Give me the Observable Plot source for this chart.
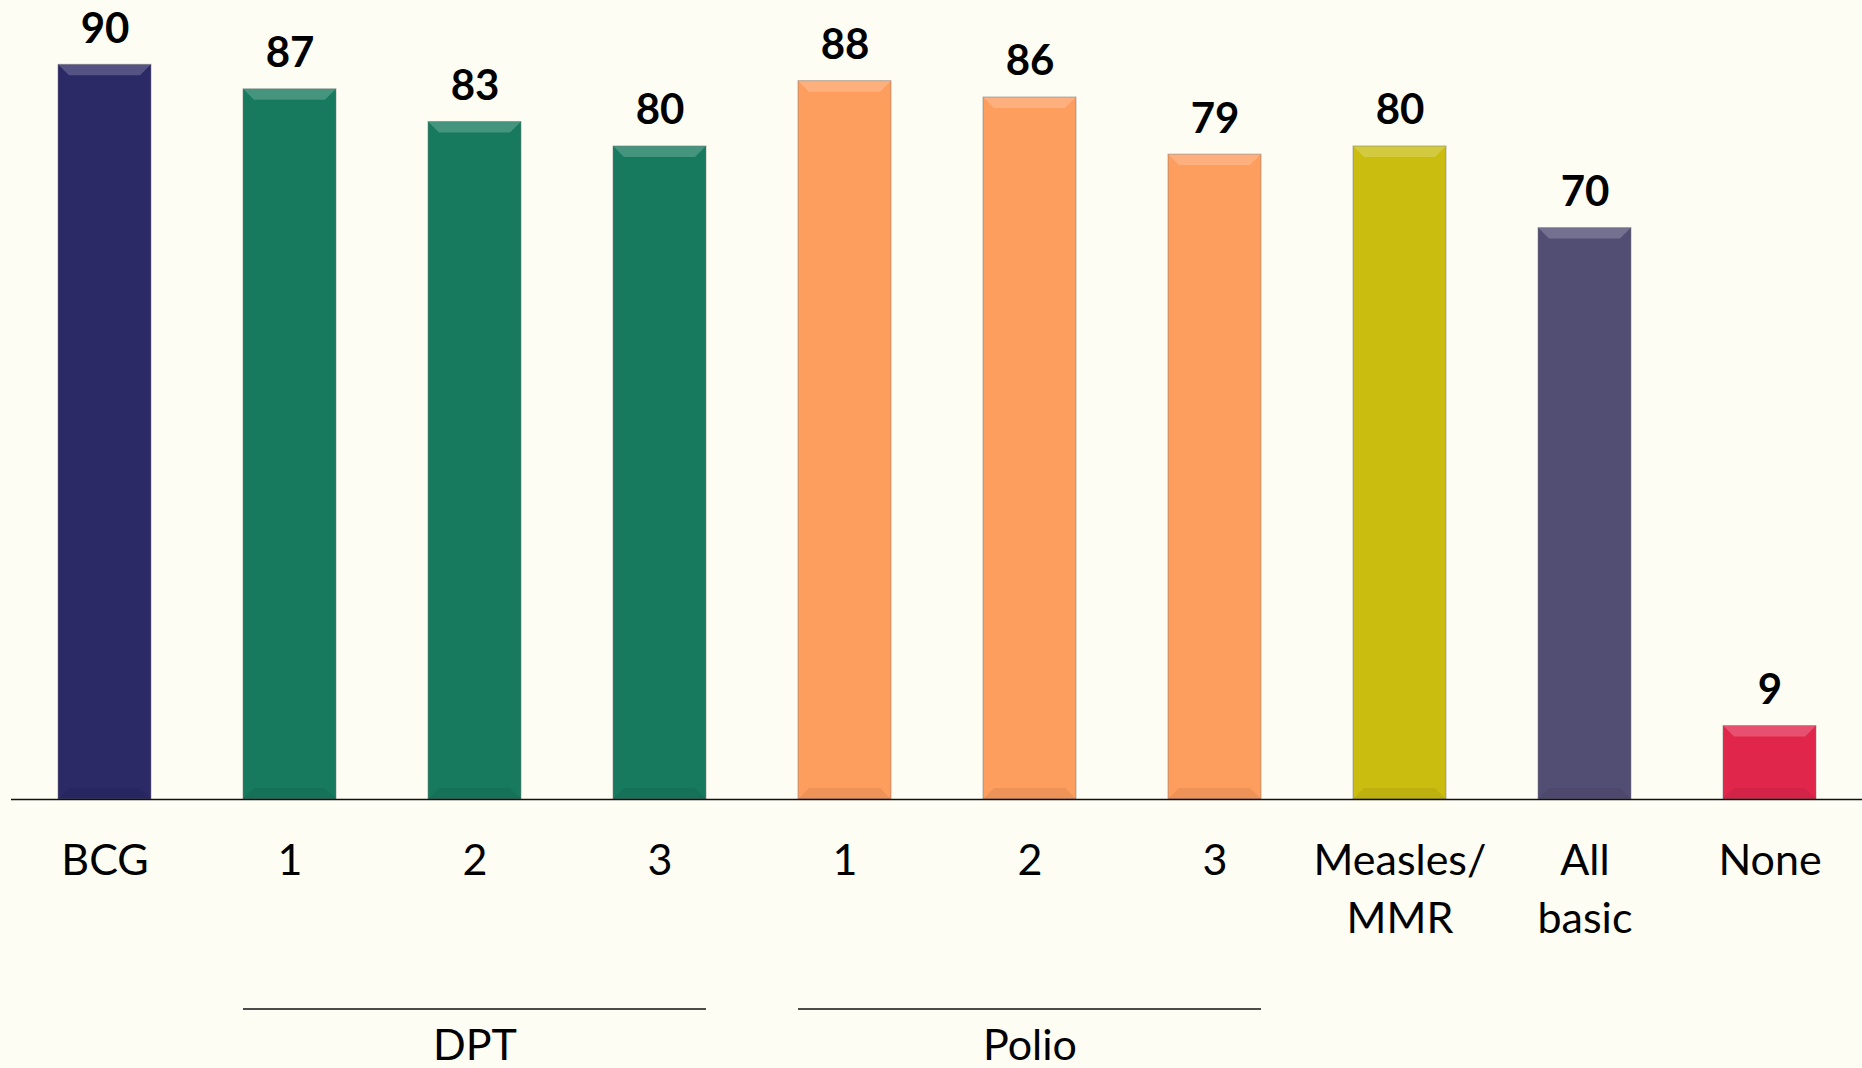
<!DOCTYPE html>
<html>
<head>
<meta charset="utf-8">
<script src="https://cdn.jsdelivr.net/npm/d3@7"></script>
<script src="https://cdn.jsdelivr.net/npm/@observablehq/plot@0.6"></script>
<style>
  html, body { margin: 0; padding: 0; background: #fdfdf3; }
  #chart svg { display: block; background: #fdfdf3; }
</style>
</head>
<body>
<div id="chart"></div>
<script>
// ---- Data ----
const categories = ["BCG", "DPT 1", "DPT 2", "DPT 3", "Polio 1", "Polio 2", "Polio 3", "Measles/MMR", "All basic", "None"];
const tickLabels = ["BCG", "1", "2", "3", "1", "2", "3", "Measles/\nMMR", "All\nbasic", "None"];
const values = [90, 87, 83, 80, 88, 86, 79, 80, 70, 9];
const barColors = ["#2b2966", "#177a5e", "#177a5e", "#177a5e", "#fd9d5e", "#fd9d5e", "#fd9d5e", "#cabd10", "#524d73", "#e1264c"];

const groupNames = ["DPT", "Polio"];
const groupFirst = ["DPT 1", "Polio 1"];
const groupMid = ["DPT 2", "Polio 2"];
const groupLast = ["DPT 3", "Polio 3"];

const data = categories.map((key, i) => ({key, label: tickLabels[i], value: values[i], color: barColors[i]}));
const groups = groupNames.map((name, i) => ({name, first: groupFirst[i], mid: groupMid[i], last: groupLast[i]}));

const FONT = "Lato, 'Open Sans', sans-serif";

// bevel overlay drawn through the plot's scales
function bevel(index, scales) {
  const x = scales.x, y = scales.y;
  const bw = x.bandwidth();
  const g = d3.create("svg:g");
  const b = 11;
  for (const d of data) {
    const x0 = x(d.key), x1 = x0 + bw, yt = y(d.value), yb = y(0);
    const bb = Math.min(b, (yb - yt) / 2);
    g.append("polygon")
      .attr("points", `${x0},${yt} ${x1},${yt} ${x1 - bb},${yt + bb} ${x0 + bb},${yt + bb}`)
      .attr("fill", "white").attr("fill-opacity", 0.2);
    g.append("polygon")
      .attr("points", `${x0},${yb} ${x1},${yb} ${x1 - bb},${yb - bb} ${x0 + bb},${yb - bb}`)
      .attr("fill", "black").attr("fill-opacity", 0.06);
    g.append("rect")
      .attr("x", x0).attr("y", yt).attr("width", bw).attr("height", yb - yt)
      .attr("fill", "none").attr("stroke", "#7a7a7a").attr("stroke-opacity", 0.5).attr("stroke-width", 1);
  }
  return g.node();
}

function groupRules(index, scales) {
  const x = scales.x, y = scales.y;
  const bw = x.bandwidth();
  const g = d3.create("svg:g");
  for (const gr of groups) {
    const yy = y(0) + 210;
    g.append("line")
      .attr("x1", x(gr.first)).attr("x2", x(gr.last) + bw)
      .attr("y1", yy).attr("y2", yy)
      .attr("stroke", "#111").attr("stroke-width", 1.5);
  }
  return g.node();
}

const chart = Plot.plot({
  width: 1862,
  height: 1068,
  marginLeft: 11,
  marginRight: 0,
  marginTop: 0,
  marginBottom: 269,
  style: {background: "#fdfdf3", fontFamily: FONT, color: "#000"},
  x: {domain: categories, paddingInner: 0.5, paddingOuter: 0.25, axis: null},
  y: {domain: [0, 97.88], axis: null},
  color: {type: "identity"},
  marks: [
    Plot.barY(data, {x: "key", y: "value", fill: "color"}),
    bevel,
    Plot.ruleY([0], {stroke: "#111", strokeWidth: 1.5}),
    Plot.text(data, {x: "key", y: "value", text: d => String(d.value), dy: -22, lineAnchor: "bottom", fontWeight: "bold", fontSize: 42, fill: "#000"}),
    Plot.text(data, {x: "key", y: d => 0, text: "label", lineAnchor: "top", dy: 34, fontSize: 43, lineHeight: 1.35, fill: "#000"}),
    groupRules,
    Plot.text(groups, {x: "mid", y: d => 0, text: "name", lineAnchor: "top", dy: 230, fontSize: 43, fill: "#000"})
  ]
});
document.getElementById("chart").appendChild(chart);
</script>
</body>
</html>
